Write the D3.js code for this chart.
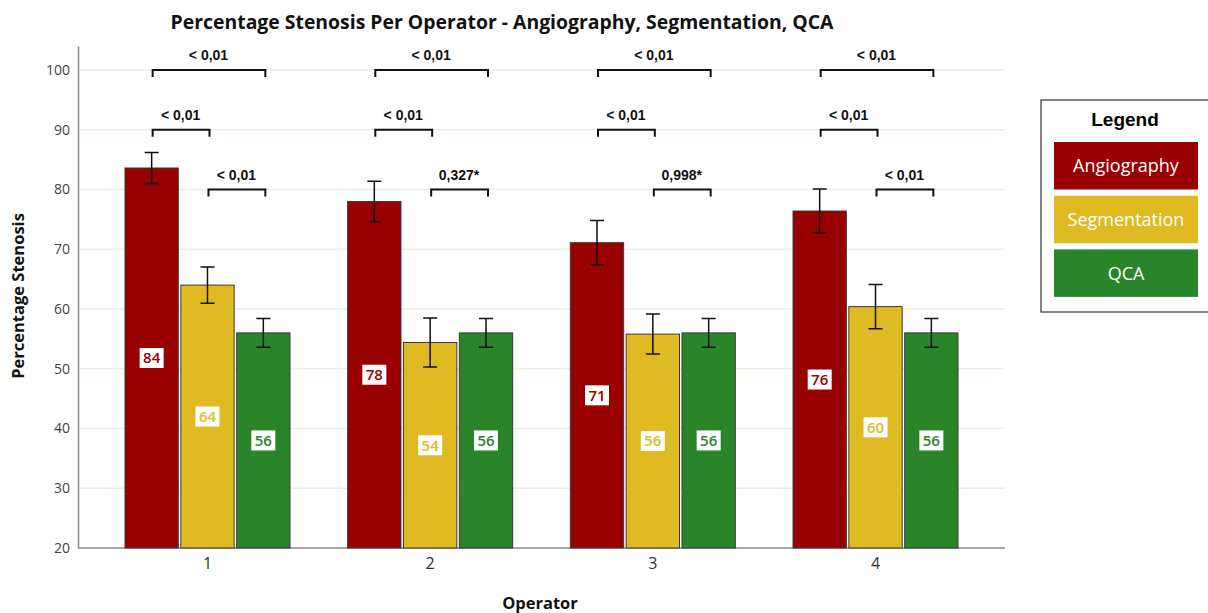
<!DOCTYPE html>
<html>
<head>
<meta charset="utf-8">
<script src="https://cdn.jsdelivr.net/npm/d3@7"></script>
<style>
  body { margin: 0; background: #fff; }
  svg { font-family: "Open Sans", "DejaVu Sans", sans-serif; }
</style>
</head>
<body>
<svg id="chart" width="1208" height="613"></svg>
<script>
// data
const operators = ['1', '2', '3', '4'];
const series = ['Angiography', 'Segmentation', 'QCA'];
const colors = ['#990000', '#e0ba22', '#2a852a'];

const angioMean = [83.6, 78.0, 71.1, 76.4];
const angioErr  = [2.6, 3.4, 3.7, 3.7];
const segMean   = [64.0, 54.4, 55.8, 60.4];
const segErr    = [3.05, 4.1, 3.35, 3.7];
const qcaMean   = [56.0, 56.0, 56.0, 56.0];
const qcaErr    = [2.4, 2.4, 2.4, 2.4];

const yTicks = [20, 30, 40, 50, 60, 70, 80, 90, 100];

// p values per operator
const pAngioSeg = ['< 0,01', '< 0,01', '< 0,01', '< 0,01'];
const pAngioQca = ['< 0,01', '< 0,01', '< 0,01', '< 0,01'];
const pSegQca   = ['< 0,01', '0,327*', '0,998*', '< 0,01'];

const means = [angioMean, segMean, qcaMean];
const errs = [angioErr, segErr, qcaErr];

//////////////////////////////////////////////////////////////////
const svg = d3.select('#chart');
const margin = { left: 78, right: 203, top: 45, bottom: 65 };
const W = +svg.attr('width'), H = +svg.attr('height');

const x0 = d3.scaleBand()
  .domain(operators)
  .range([margin.left, W - margin.right])
  .paddingInner(0.259)
  .paddingOuter(0.211);

const x1 = d3.scaleBand()
  .domain(series)
  .range([0, x0.bandwidth()])
  .paddingInner(0.045);

const y = d3.scaleLinear()
  .domain([20, 104])
  .range([548, 548 - 84 * 5.975]);

// grid
svg.append('g')
  .selectAll('line')
  .data(yTicks.slice(1))
  .enter().append('line')
    .attr('x1', margin.left)
    .attr('x2', W - margin.right)
    .attr('y1', d => y(d))
    .attr('y2', d => y(d))
    .attr('stroke', '#f1ecdc')
    .attr('stroke-width', 1.5);

// y axis
const yAxis = svg.append('g')
  .attr('transform', `translate(${margin.left},0)`)
  .call(d3.axisLeft(y).tickValues(yTicks).tickSize(0).tickPadding(8));
yAxis.select('.domain').attr('stroke', '#8a8a8a').attr('stroke-width', 1.5);
yAxis.selectAll('text')
  .attr('font-size', 14)
  .attr('fill', '#444')
  .attr('font-family', '"Open Sans", sans-serif');

// x axis
const xAxis = svg.append('g')
  .attr('transform', `translate(0,${y(20)})`)
  .call(d3.axisBottom(x0).tickSize(0).tickPadding(10));
xAxis.select('.domain')
  .attr('d', `M${margin.left},0H${W - margin.right}`)
  .attr('stroke', '#8a8a8a').attr('stroke-width', 1.5);
xAxis.selectAll('text')
  .attr('font-size', 16)
  .attr('fill', '#333')
  .attr('font-family', '"Open Sans", sans-serif');

// bars
const rows = [];
operators.forEach((op, i) => {
  series.forEach((s, j) => {
    rows.push({ op, s, j, mean: means[j][i], err: errs[j][i] });
  });
});

const groups = svg.append('g')
  .selectAll('g.op')
  .data(operators)
  .enter().append('g')
    .attr('class', 'op')
    .attr('transform', d => `translate(${x0(d)},0)`);

const bars = groups.selectAll('g.bar')
  .data(op => rows.filter(r => r.op === op))
  .enter().append('g')
    .attr('class', 'bar');

bars.append('rect')
  .attr('x', d => x1(d.s))
  .attr('y', d => y(d.mean))
  .attr('width', x1.bandwidth())
  .attr('height', d => y(20) - y(d.mean))
  .attr('fill', d => colors[d.j])
  .attr('stroke', '#3a3a3a')
  .attr('stroke-width', 1);

// error bars
const cx = d => x1(d.s) + x1.bandwidth() / 2;
bars.append('path')
  .attr('d', d => {
    const c = cx(d), t = y(d.mean + d.err), b = y(d.mean - d.err);
    return `M${c - 7},${t}H${c + 7}M${c},${t}V${b}M${c - 7},${b}H${c + 7}`;
  })
  .attr('fill', 'none')
  .attr('stroke', '#111')
  .attr('stroke-width', 1.5);

// value labels
const lab = bars.append('g')
  .attr('transform', d => `translate(${cx(d)},${(y(d.mean) + y(20)) / 2})`);
lab.append('rect')
  .attr('x', -12).attr('y', -10)
  .attr('width', 24).attr('height', 20)
  .attr('fill', '#fff');
lab.append('text')
  .attr('text-anchor', 'middle')
  .attr('dy', '0.36em')
  .attr('font-size', 15)
  .attr('font-weight', 600)
  .attr('fill', d => colors[d.j])
  .attr('font-family', '"Open Sans", sans-serif')
  .text(d => Math.round(d.mean));

// significance brackets
const brackets = [];
operators.forEach((op, i) => {
  brackets.push({ op, a: 0, b: 2, lvl: 100, txt: pAngioQca[i] });
  brackets.push({ op, a: 0, b: 1, lvl: 90, txt: pAngioSeg[i] });
  brackets.push({ op, a: 1, b: 2, lvl: 80, txt: pSegQca[i] });
});

const br = svg.append('g')
  .selectAll('g.br')
  .data(brackets)
  .enter().append('g')
    .attr('class', 'br')
    .attr('transform', d => `translate(${x0(d.op)},${y(d.lvl)})`);

const bx = i => x1(series[i]) + x1.bandwidth() / 2;
br.append('path')
  .attr('d', d => `M${bx(d.a) + 1},7V0H${bx(d.b) + 2}V7`)
  .attr('fill', 'none')
  .attr('stroke', '#111')
  .attr('stroke-width', 2);
br.append('text')
  .attr('x', d => (bx(d.a) + bx(d.b)) / 2 + 1)
  .attr('y', -10)
  .attr('text-anchor', 'middle')
  .attr('font-size', 14)
  .attr('font-weight', 'bold')
  .attr('font-family', '"Liberation Sans", Arial, sans-serif')
  .attr('fill', '#111')
  .text(d => d.txt);

// titles
svg.append('text')
  .attr('x', 502).attr('y', 29)
  .attr('text-anchor', 'middle')
  .attr('font-size', 19.4)
  .attr('font-weight', 'bold')
  .attr('fill', '#111')
  .text('Percentage Stenosis Per Operator - Angiography, Segmentation, QCA');

svg.append('text')
  .attr('transform', 'translate(24,296) rotate(-90)')
  .attr('text-anchor', 'middle')
  .attr('font-size', 16.5)
  .attr('font-weight', 'bold')
  .attr('fill', '#111')
  .text('Percentage Stenosis');

svg.append('text')
  .attr('x', 540).attr('y', 609)
  .attr('text-anchor', 'middle')
  .attr('font-size', 16.5)
  .attr('font-weight', 'bold')
  .attr('fill', '#111')
  .text('Operator');

// legend
const leg = svg.append('g').attr('transform', 'translate(1041,100)');
leg.append('rect')
  .attr('width', 170).attr('height', 212)
  .attr('fill', '#fff')
  .attr('stroke', '#333')
  .attr('stroke-width', 1.2);
leg.append('text')
  .attr('x', 84).attr('y', 26)
  .attr('text-anchor', 'middle')
  .attr('font-size', 19)
  .attr('font-weight', 'bold')
  .attr('font-family', '"Liberation Sans", Arial, sans-serif')
  .attr('fill', '#000')
  .text('Legend');

const items = leg.selectAll('g.item')
  .data(series)
  .enter().append('g')
    .attr('class', 'item')
    .attr('transform', (d, i) => `translate(13,${42 + i * 53.7})`);
items.append('rect')
  .attr('width', 144).attr('height', 47.5)
  .attr('fill', (d, i) => colors[i]);
items.append('text')
  .attr('x', 72).attr('y', 24)
  .attr('dy', '0.36em')
  .attr('text-anchor', 'middle')
  .attr('font-size', 18)
  .attr('fill', '#fff')
  .text(d => d);
</script>
</body>
</html>
